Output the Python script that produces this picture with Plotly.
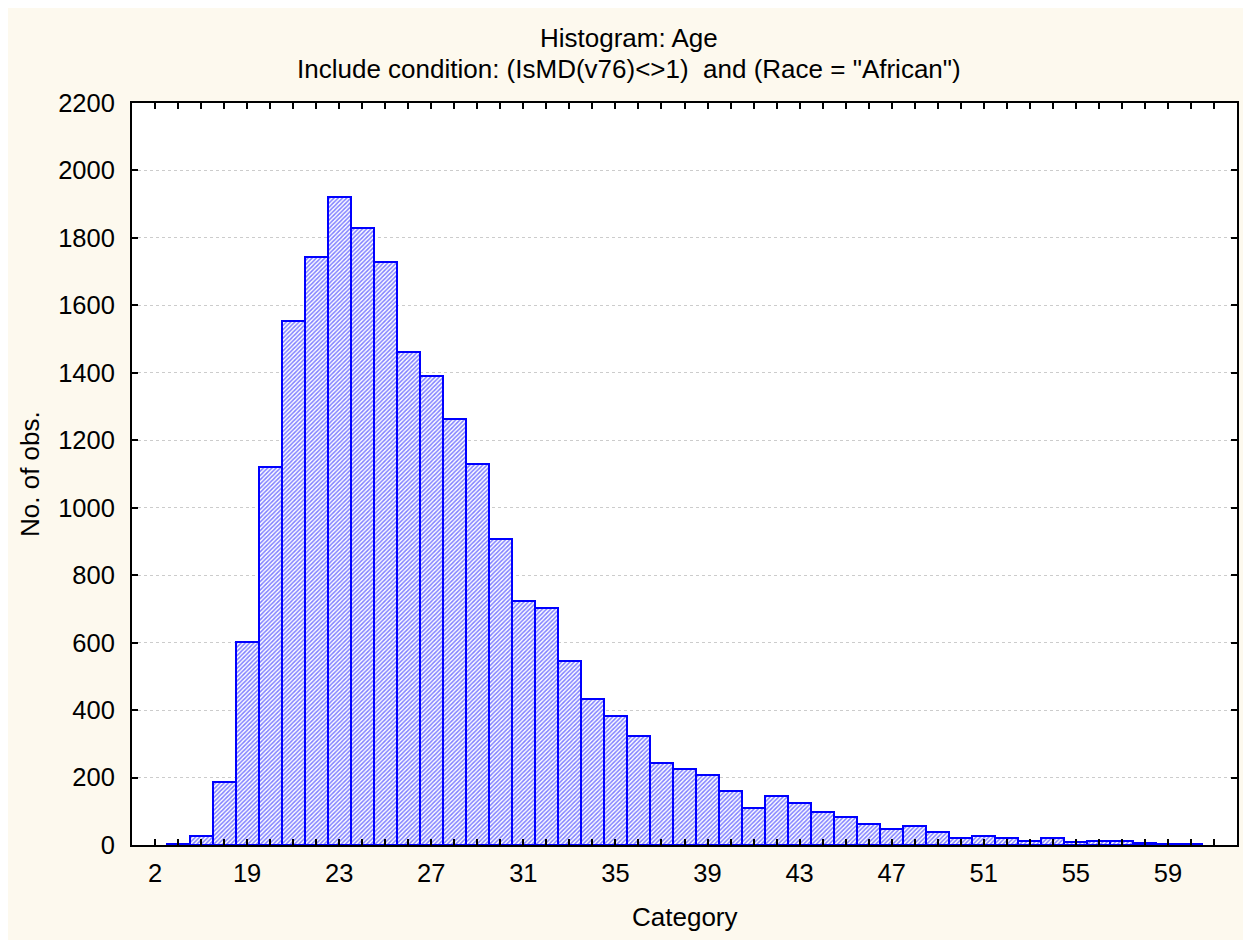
import plotly.graph_objects as go

# Categories (age values) and counts
categories = ["2"] + [str(a) for a in range(16, 62)]
counts = [0, 3, 26, 187, 602, 1121, 1553, 1742, 1922, 1828, 1730, 1463, 1391, 1264,
          1130, 906, 724, 704, 545, 434, 382, 323, 243, 225, 208, 161, 110, 145,
          124, 99, 84, 63, 48, 55, 40, 21, 26, 20, 12, 20, 8, 12, 11, 7, 4, 3, 0]
label_every = 4
tick_text = [c if i % label_every == 0 else "" for i, c in enumerate(categories)]
y_ticks = list(range(0, 2201, 200))

title_text = "Histogram: Age"
subtitle_text = 'Include condition: (IsMD(v76)&lt;&gt;1)  and (Race = "African")'
x_title = "Category"
y_title = "No. of obs."

FONT = "Liberation Sans, Arial, Helvetica, sans-serif"

# plot area (figure px): x 124..1229, y 95..837
PL, PR, PT, PB = 124, 1229, 95, 837
PW, PH = PR - PL, PB - PT


def px_x(x):
    return (x - PL) / PW


def px_y(y):
    return (PB - y) / PH


outline_widths = [0 if c == 0 else 2 for c in counts]

fig = go.Figure(go.Bar(
    x=categories,
    y=counts,
    width=1.0,
    marker=dict(
        color="#ffffff",
        line=dict(color="#0000ff", width=outline_widths),
        pattern=dict(shape="/", fgcolor="#0000ff", bgcolor="#ffffff",
                     size=3, solidity=0.5, fillmode="overlay"),
    ),
    hoverinfo="x+y",
))

fig.update_layout(
    width=1251, height=940,
    margin=dict(l=PL, r=1251 - PR, t=PT, b=940 - PB),
    paper_bgcolor="#fdf9ee",
    plot_bgcolor="#ffffff",
    bargap=0,
    showlegend=False,
    font=dict(family=FONT, color="#000000", size=25),
    annotations=[
        dict(text=title_text, xref="paper", yref="paper", x=px_x(621),
             y=px_y(30), xanchor="center", yanchor="middle",
             showarrow=False, font=dict(size=26)),
        dict(text=subtitle_text, xref="paper", yref="paper", x=px_x(621),
             y=px_y(61), xanchor="center", yanchor="middle",
             showarrow=False, font=dict(size=26)),
        dict(text=x_title, xref="paper", yref="paper", x=0.5,
             y=px_y(909), xanchor="center", yanchor="middle",
             showarrow=False, font=dict(size=26)),
        dict(text=y_title, xref="paper", yref="paper", x=px_x(22),
             y=0.5, xanchor="center", yanchor="middle", textangle=-90,
             showarrow=False, font=dict(size=26)),
    ],
)

fig.update_xaxes(
    type="category",
    categoryorder="array", categoryarray=categories,
    range=[-1, len(categories)],
    tickmode="array", tickvals=categories, ticktext=tick_text,
    ticks="inside", ticklen=6, tickwidth=2, tickcolor="#000000",
    showline=True, linecolor="#000000", linewidth=2, mirror="ticks",
    showgrid=False, zeroline=False,
    tickfont=dict(size=25.5), ticklabelstandoff=4,
)
fig.update_yaxes(
    range=[0, 2200],
    tickmode="array", tickvals=y_ticks,
    ticks="inside", ticklen=6, tickwidth=2, tickcolor="#000000",
    showline=True, linecolor="#000000", linewidth=2, mirror="ticks",
    showgrid=True, gridcolor="#cccccc", gridwidth=1, griddash="dot",
    zeroline=False,
    tickfont=dict(size=25.5), ticklabelstandoff=10,
)

fig.write_html("out.html")
